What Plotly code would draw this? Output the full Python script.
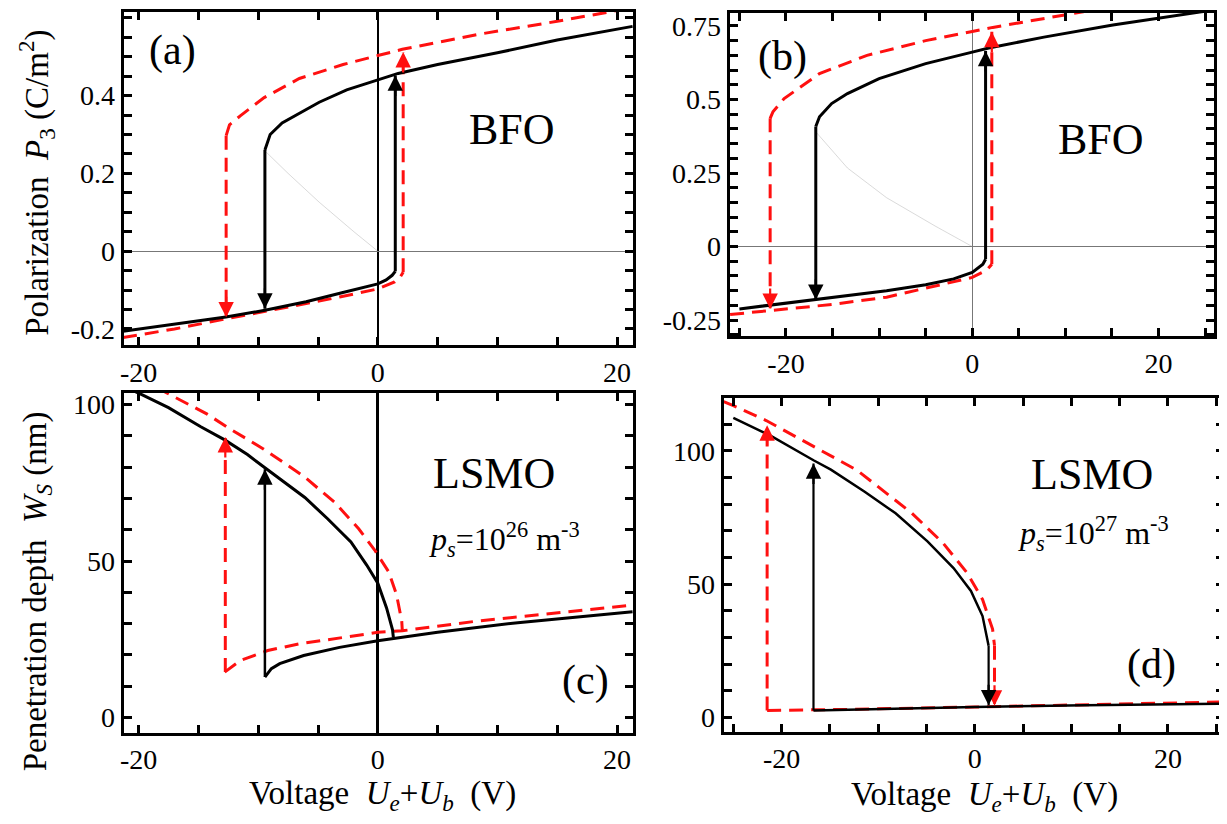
import plotly.graph_objects as go

FONT = "Liberation Serif"
# the page body keeps its default 8px margin, so the figure is drawn 8px in
OFF = 8
W, H = 1227 - OFF, 824 - 2 * OFF

# ---------------- data ----------------
# panel (a) BFO, P3 vs voltage
a_blk_up_x = [-9.44, -9.0, -8.0, -6.3, -4.9, -2.6, 0, 1.7, 5, 10, 15, 21.3]
a_blk_up_y = [0.26, 0.30, 0.33, 0.36, 0.383, 0.415, 0.44, 0.457, 0.48, 0.51, 0.543, 0.578]
a_blk_lo_x = [-21.3, -17, -12.7, -9.44, -6, -3, -1.6, 0, 0.7, 1.2, 1.46]
a_blk_lo_y = [-0.206, -0.187, -0.169, -0.152, -0.13, -0.107, -0.097, -0.084, -0.074, -0.062, -0.052]
a_red_up_x = [-12.68, -12.4, -11.5, -9.5, -6.56, -2.9, 0, 2.05, 8.3, 15, 21.3]
a_red_up_y = [0.297, 0.325, 0.348, 0.395, 0.444, 0.48, 0.503, 0.519, 0.557, 0.591, 0.626]
a_red_lo_x = [-21.3, -17, -12.68, -8.2, -3.2, 0, 1.4, 1.9, 2.12]
a_red_lo_y = [-0.222, -0.2, -0.174, -0.148, -0.118, -0.097, -0.079, -0.065, -0.054]
a_faint_x = [0, -2, -4.9, -7.5, -9.44]
a_faint_y = [0, 0.05, 0.126, 0.2, 0.258]
# jumps: (x, y_from, y_tip)
a_blk_jumps = [(1.46, -0.052, 0.452), (-9.44, 0.26, -0.148)]
a_red_jumps = [(2.12, -0.054, 0.512), (-12.68, 0.297, -0.17)]

# panel (b) BFO
b_blk_up_x = [-16.8, -16.4, -15.1, -13.4, -10, -5, 0, 1.77, 7.7, 15.1, 24.6, 25.5]
b_blk_up_y = [0.408, 0.441, 0.486, 0.52, 0.571, 0.622, 0.661, 0.675, 0.712, 0.753, 0.798, 0.802]
b_blk_lo_x = [-25, -16.8, -9.2, -5, -2, 0, 1.14, 1.43]
b_blk_lo_y = [-0.212, -0.181, -0.15, -0.13, -0.11, -0.088, -0.06, -0.043]
b_red_up_x = [-21.7, -21.4, -20.2, -16.4, -11.3, -5, 0, 2.2, 11.9, 12.5]
b_red_up_y = [0.436, 0.458, 0.503, 0.588, 0.65, 0.70, 0.731, 0.745, 0.798, 0.803]
b_red_lo_x = [-26, -21.7, -15.1, -9.2, -2.9, 0, 1.56, 2.1]
b_red_lo_y = [-0.231, -0.217, -0.197, -0.172, -0.127, -0.105, -0.08, -0.06]
b_faint_x = [0, -4, -9.2, -13.4, -16.8]
b_faint_y = [0, 0.07, 0.166, 0.267, 0.39]
b_blk_jumps = [(1.43, -0.043, 0.665), (-16.8, 0.408, -0.181)]
b_red_jumps = [(2.1, -0.06, 0.73), (-21.7, 0.436, -0.212)]

# panel (c) LSMO, ps = 1e26
c_blk_up_x = [-20.5, -19.9, -17.5, -14.8, -12.8, -10.9, -9.44, -6.1, -4.2, -2.25, -0.93, 0, 0.73, 1.23, 1.3]
c_blk_up_y = [104.5, 103.5, 99.0, 92.9, 88.7, 84, 79.8, 70.3, 63.5, 56.1, 48.7, 42.9, 35, 28.0, 25.6]
c_blk_lo_x = [-9.44, -8.9, -8.2, -6.2, -3.2, 0, 5, 11.7, 21.3]
c_blk_lo_y = [12.9, 15.6, 17.2, 19.8, 22.4, 24.5, 27.2, 30.3, 33.8]
c_red_up_x = [-18.5, -17.6, -14.3, -12.4, -9.6, -6.2, -3.6, -1.6, -0.26, 0.9, 1.56, 2.0, 2.05]
c_red_up_y = [105.5, 103.6, 97.0, 92.3, 85.9, 77.1, 68.7, 60.3, 53.5, 46.6, 39.3, 30.8, 27.7]
c_red_lo_x = [-12.8, -11.5, -9.2, -6.6, 0, 2.05, 8.3, 21.3]
c_red_lo_y = [14.5, 18.2, 21.4, 23.5, 27.2, 27.7, 30.8, 35.9]
c_blk_jumps = [(-9.44, 12.9, 79.3)]
c_red_jumps = [(-12.75, 14.5, 89.6)]

# panel (d) LSMO, ps = 1e27
d_blk_up_x = [-25, -21.2, -16.7, -14.9, -11.4, -8.2, -4.9, -2.2, -0.4, 0.8, 1.43]
d_blk_up_y = [112.4, 105.8, 96.5, 93, 84.7, 76.6, 66.1, 56.1, 47.5, 38.1, 27]
d_blk_lo_x = [-16.7, -9, 0, 11.4, 26]
d_blk_lo_y = [2.7, 3.35, 4.0, 4.6, 5.2]
d_red_up_x = [-26, -25, -21.6, -16.3, -12.2, -6.5, -3.3, -0.8, 0.8, 1.84, 2.04]
d_red_up_y = [118.5, 117, 111.4, 100.9, 92.8, 76.6, 65.5, 54.3, 44.3, 33.2, 27]
d_red_lo_x = [-21.5, -13, 0, 11.4, 24.9, 26]
d_red_lo_y = [2.7, 3.1, 4.0, 4.8, 5.8, 5.9]
d_blk_jumps = [(1.43, 27, 4.6), (-16.7, 2.7, 95.3)]
d_red_jumps = [(2.04, 27, 4.5), (-21.5, 2.7, 109.6)]

# tick positions (every minor step) and labels (only at the major ones)
x_ticks = [-25, -20, -15, -10, -5, 0, 5, 10, 15, 20, 25]
x_ticktext = ["", "-20", "", "", "", "0", "", "", "", "20", ""]
a_yticks = [-0.2, -0.15, -0.1, -0.05, 0, 0.05, 0.1, 0.15, 0.2, 0.25, 0.3, 0.35,
            0.4, 0.45, 0.5, 0.55, 0.6]
a_yticktext = ["-0.2", "", "", "", "0", "", "", "", "0.2", "", "", "",
               "0.4", "", "", "", "0.6"]
b_yticks = [-0.3, -0.25, -0.2, -0.15, -0.1, -0.05, 0, 0.05, 0.1, 0.15, 0.2, 0.25,
            0.3, 0.35, 0.4, 0.45, 0.5, 0.55, 0.6, 0.65, 0.7, 0.75]
b_yticktext = ["", "-0.25", "", "", "", "", "0", "", "", "", "", "0.25",
               "", "", "", "", "0.5", "", "", "", "", "0.75"]
w_yticks = [0, 10, 20, 30, 40, 50, 60, 70, 80, 90, 100, 110]
w_yticktext = ["0", "", "", "", "", "50", "", "", "", "", "100", ""]

# ---------------- layout helpers ----------------
def px_x(p):
    return (p - OFF) / W

def px_y(p):
    return 1 - (p - OFF) / H

def dom(dom_px, horizontal):
    if horizontal:
        return [px_x(dom_px[0]), px_x(dom_px[1])]
    return [px_y(dom_px[1]), px_y(dom_px[0])]

def axis(dom_px, rng, tickvals, ticktext, anchor, horizontal,
         zeroline=False, zcolor="black", zwidth=1):
    d = dict(
        domain=dom(dom_px, horizontal), range=rng, anchor=anchor, showline=True,
        linecolor="black", linewidth=3, mirror="ticks", ticks="inside", ticklen=8,
        tickwidth=3, tickcolor="black", tickmode="array", tickvals=tickvals,
        ticktext=ticktext, tickfont=dict(family=FONT, size=28, color="black"),
        showgrid=False, zeroline=zeroline,
    )
    if zeroline:
        d.update(zerolinecolor=zcolor, zerolinewidth=zwidth)
    return d

fig = go.Figure()

panels = [
    ("x", "y", a_blk_up_x, a_blk_up_y, a_blk_lo_x, a_blk_lo_y, a_red_up_x, a_red_up_y,
     a_red_lo_x, a_red_lo_y, a_blk_jumps, a_red_jumps, 3, 3),
    ("x2", "y2", b_blk_up_x, b_blk_up_y, b_blk_lo_x, b_blk_lo_y, b_red_up_x, b_red_up_y,
     b_red_lo_x, b_red_lo_y, b_blk_jumps, b_red_jumps, 3, 3),
    ("x3", "y3", c_blk_up_x, c_blk_up_y, c_blk_lo_x, c_blk_lo_y, c_red_up_x, c_red_up_y,
     c_red_lo_x, c_red_lo_y, c_blk_jumps, c_red_jumps, 3, 2.5),
    ("x4", "y4", d_blk_up_x, d_blk_up_y, d_blk_lo_x, d_blk_lo_y, d_red_up_x, d_red_up_y,
     d_red_lo_x, d_red_lo_y, d_blk_jumps, d_red_jumps, 2.5, 2.2),
]

for xr, yr, fx, fy in [("x", "y", a_faint_x, a_faint_y), ("x2", "y2", b_faint_x, b_faint_y)]:
    fig.add_trace(go.Scatter(x=fx, y=fy, xaxis=xr, yaxis=yr, mode="lines",
                             line=dict(color="rgba(150,150,150,0.35)", width=1),
                             showlegend=False, hoverinfo="skip"))

annotations = []
for (xr, yr, bux, buy, blx, bly, rux, ruy, rlx, rly, bj, rj, bw, jw) in panels:
    rx, ry = [], []
    for xs, ys in [(rlx, rly), (rux, ruy)]:
        rx += list(xs) + [None]
        ry += list(ys) + [None]
    for (jx, y0, y1) in rj:
        rx += [jx, jx, None]
        ry += [y0, y1, None]
    fig.add_trace(go.Scatter(x=rx, y=ry, xaxis=xr, yaxis=yr, mode="lines",
                             line=dict(color="#ff1010", width=3, dash="14px,8px"),
                             showlegend=False, hoverinfo="skip"))
    kx, ky = [], []
    for xs, ys in [(blx, bly), (bux, buy)]:
        kx += list(xs) + [None]
        ky += list(ys) + [None]
    fig.add_trace(go.Scatter(x=kx, y=ky, xaxis=xr, yaxis=yr, mode="lines",
                             line=dict(color="black", width=bw),
                             showlegend=False, hoverinfo="skip"))
    jx_, jy_ = [], []
    for (jx, y0, y1) in bj:
        jx_ += [jx, jx, None]
        jy_ += [y0, y1, None]
    fig.add_trace(go.Scatter(x=jx_, y=jy_, xaxis=xr, yaxis=yr, mode="lines",
                             line=dict(color="black", width=jw),
                             showlegend=False, hoverinfo="skip"))
    for jumps, col in [(rj, "#ff1010"), (bj, "black")]:
        for (jx, y0, y1) in jumps:
            up = y1 > y0
            annotations.append(dict(
                x=jx, y=y1, xref=xr, yref=yr, ax=0, ay=(22 if up else -22),
                text="", showarrow=True, arrowhead=2, arrowsize=1.4,
                arrowwidth=2.2, arrowcolor=col, standoff=0))

def txt(s, cx, cy, size, angle=0):
    return dict(text=s, x=px_x(cx), y=px_y(cy), xref="paper", yref="paper",
                xanchor="center", yanchor="middle", showarrow=False, textangle=angle,
                font=dict(family=FONT, size=size, color="black"))

annotations += [
    txt("(a)", 169, 48, 42),
    txt("(b)", 781, 54, 42),
    txt("(c)", 583, 682, 42),
    txt("(d)", 1151, 666, 42),
    txt("BFO", 510, 127, 44),
    txt("BFO", 1101, 137, 44),
    txt("LSMO", 492, 473, 44),
    txt("LSMO", 1092, 474, 44),
    txt("<i>p</i><sub><i>s</i></sub>=10<sup>26</sup> m<sup>-3</sup>", 502, 540, 32),
    txt("<i>p</i><sub><i>s</i></sub>=10<sup>27</sup> m<sup>-3</sup>", 1093, 534, 32),
    txt("Polarization  <i>P</i><sub>3</sub> (C/m<sup>2</sup>)", 33, 181, 33, -90),
    txt("Penetration depth  <i>W</i><sub><i>S</i></sub> (nm)", 33, 592, 33, -90),
    txt("Voltage  <i>U</i><sub><i>e</i></sub>+<i>U</i><sub><i>b</i></sub>  (V)", 380, 797, 33),
    txt("Voltage  <i>U</i><sub><i>e</i></sub>+<i>U</i><sub><i>b</i></sub>  (V)", 984, 798, 33),
]

# pixel boxes (in page pixels) and ranges of the four panels
a_xpx, a_ypx, a_xr, a_yr = [120, 631], [9, 344], [-21.25, 21.33], [-0.241, 0.615]
b_xpx, b_ypx, b_xr, b_yr = [728, 1214], [10, 335], [-26.05, 25.96], [-0.304, 0.794]
c_xpx, c_ypx, c_xr, c_yr = [120, 631], [392, 734], [-21.25, 21.33], [-4.8, 103.8]
d_xpx, d_ypx, d_xr, d_yr = [722, 1224], [397, 733], [-26.0, 25.8], [-5.2, 120]

fig.update_layout(
    width=W, height=H, autosize=False,
    margin=dict(l=0, r=0, t=0, b=0),
    paper_bgcolor="white", plot_bgcolor="white",
    font=dict(family=FONT, size=28, color="black"),
    showlegend=False,
    xaxis=axis(a_xpx, a_xr, x_ticks, x_ticktext, "y", True, True, "black", 2),
    yaxis=axis(a_ypx, a_yr, a_yticks, a_yticktext, "x", False, True, "#777777", 1),
    xaxis2=axis(b_xpx, b_xr, x_ticks, x_ticktext, "y2", True, True, "#777777", 1),
    yaxis2=axis(b_ypx, b_yr, b_yticks, b_yticktext, "x2", False, True, "#777777", 1),
    xaxis3=axis(c_xpx, c_xr, x_ticks, x_ticktext, "y3", True, True, "black", 2.5),
    yaxis3=axis(c_ypx, c_yr, w_yticks, w_yticktext, "x3", False),
    xaxis4=axis(d_xpx, d_xr, x_ticks, x_ticktext, "y4", True),
    yaxis4=axis(d_ypx, d_yr, w_yticks, w_yticktext, "x4", False),
    annotations=annotations,
)

fig.write_html("out.html", config={"displayModeBar": False, "responsive": False})
